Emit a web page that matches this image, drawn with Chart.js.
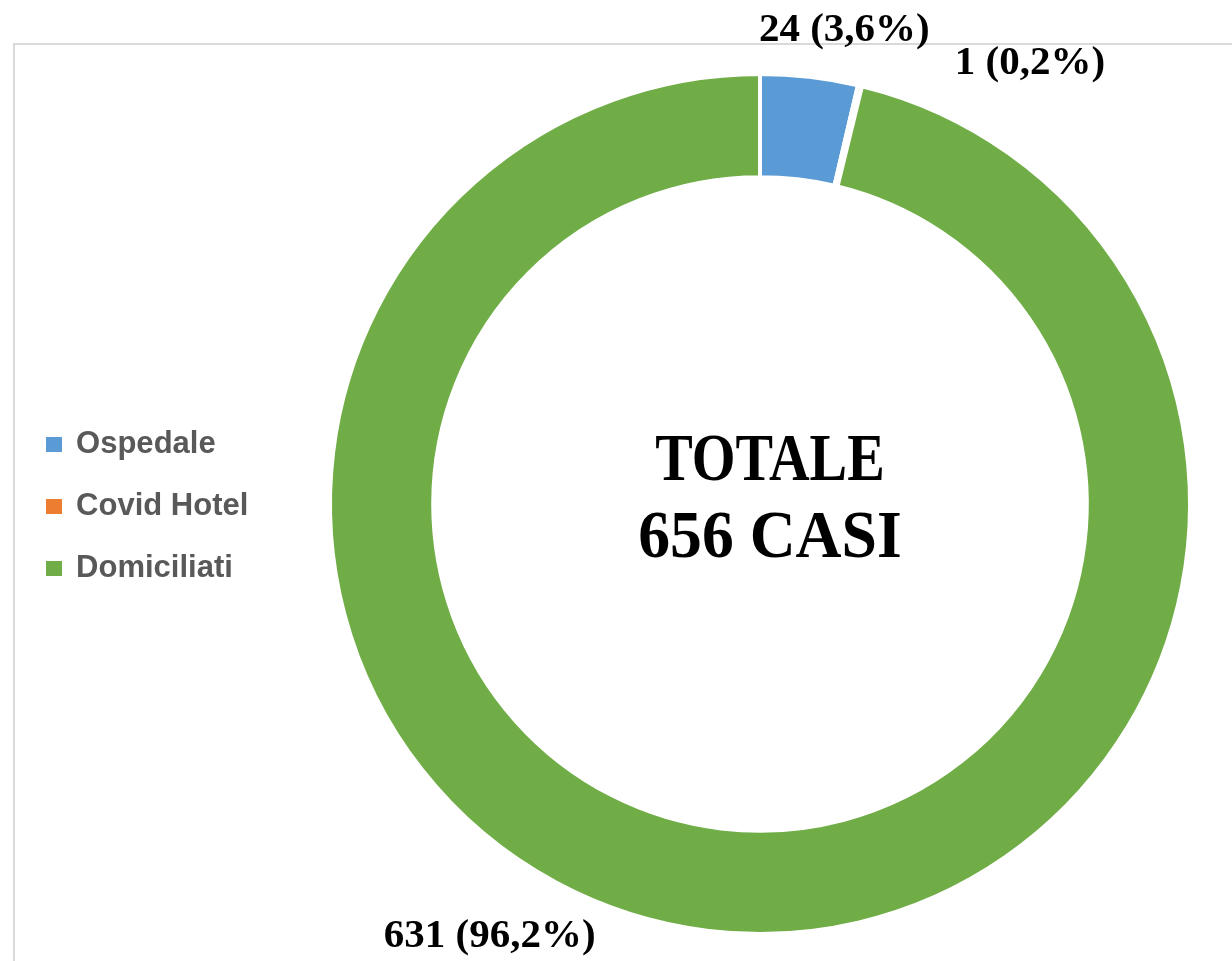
<!DOCTYPE html>
<html><head><meta charset="utf-8">
<script src="https://cdn.jsdelivr.net/npm/chart.js@4/dist/chart.umd.min.js"></script>
<style>html,body{margin:0;padding:0;background:#fff;overflow:hidden}#wrap{width:1232px;height:961px;position:relative}</style>
</head><body><div id="wrap"><canvas id="c" width="1232" height="961"></canvas></div>
<script>
const categories = ['Ospedale', 'Covid Hotel', 'Domiciliati'];
const values = [24, 1, 631];
const percentLabels = ['3,6%', '0,2%', '96,2%'];
const colors = ['#5B9BD5', '#ED7D31', '#70AD47'];
const centerLines = ['TOTALE', '656 CASI'];
const labelOffsets = [[35, -46], [170, -22], [-219, 5]];

const framePlugin = {
  id: 'frame',
  beforeDraw(chart) {
    const ctx = chart.ctx;
    ctx.save();
    ctx.strokeStyle = '#D9D9D9';
    ctx.lineWidth = 2;
    ctx.beginPath();
    ctx.moveTo(14, 970); ctx.lineTo(14, 44); ctx.lineTo(1240, 44);
    ctx.stroke();
    ctx.restore();
  }
};

const overlayPlugin = {
  id: 'overlay',
  afterDraw(chart) {
    const ctx = chart.ctx;
    const meta = chart.getDatasetMeta(0);
    ctx.save();
    // data labels
    ctx.fillStyle = '#000';
    ctx.font = 'bold 41px "Liberation Serif"';
    ctx.textAlign = 'center';
    ctx.textBaseline = 'middle';
    meta.data.forEach((arc, i) => {
      const mid = (arc.startAngle + arc.endAngle) / 2;
      const x = arc.x + Math.cos(mid) * arc.outerRadius + labelOffsets[i][0];
      const y = arc.y + Math.sin(mid) * arc.outerRadius + labelOffsets[i][1];
      ctx.fillText(values[i] + ' (' + percentLabels[i] + ')', x, y);
    });
    // center text
    const cx = meta.data[0].x, cy = meta.data[0].y;
    ctx.font = 'bold 67px "Liberation Serif"';
    ctx.textBaseline = 'alphabetic';
    [[centerLines[0], -24, 0.84], [centerLines[1], 53, 0.95]].forEach(([t, dy, sx]) => {
      ctx.save();
      ctx.translate(cx + 10, cy + dy);
      ctx.scale(sx, 1);
      ctx.fillText(t, 0, 0);
      ctx.restore();
    });
    // legend
    ctx.textAlign = 'left';
    ctx.textBaseline = 'middle';
    ctx.font = 'bold 32px "Liberation Sans"';
    categories.forEach((c, i) => {
      const y = 444 + i * 62;
      ctx.fillStyle = colors[i];
      ctx.fillRect(46, y - 7, 16, 15);
      ctx.fillStyle = '#595959';
      ctx.save();
      ctx.translate(76, y);
      ctx.scale(0.97, 1);
      ctx.fillText(c, 0, 0);
      ctx.restore();
    });
    ctx.restore();
  }
};

new Chart(document.getElementById('c'), {
  type: 'doughnut',
  data: {
    labels: categories,
    datasets: [{
      data: values,
      backgroundColor: colors,
      borderColor: '#ffffff',
      borderWidth: 4
    }]
  },
  options: {
    responsive: false,
    animation: false,
    cutout: '76%',
    layout: { padding: { left: 328, right: 40, top: 72, bottom: 25 } },
    plugins: { legend: { display: false }, tooltip: { enabled: false } }
  },
  plugins: [framePlugin, overlayPlugin]
});
</script>
</body></html>
